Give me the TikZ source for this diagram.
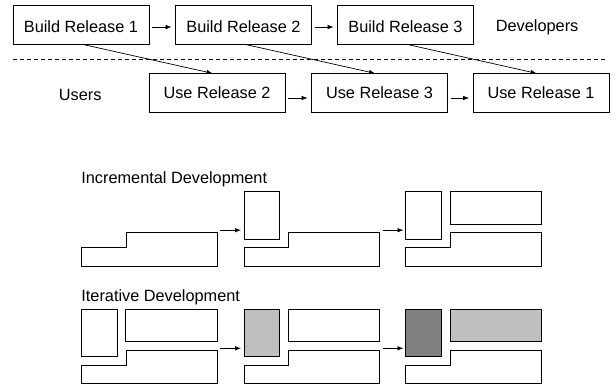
\documentclass[tikz,border=0pt]{standalone}
\usepackage{fontspec}
\setmainfont{Liberation Sans}
\usetikzlibrary{arrows.meta}
\begin{document}
\begin{tikzpicture}[x=1pt,y=-1pt,
  txt/.style={font=\fontsize{16.3}{19}\selectfont},
  box/.style={txt,draw,line width=0.8pt,minimum width=136pt,minimum height=38.5pt,inner sep=0pt},
  topbox/.style={box,text height=16.5pt,text depth=0pt},
  lbl/.style={txt,inner sep=0pt,anchor=base west},
  arr/.style={-{Latex[length=6pt,width=4.5pt]},line width=0.7pt},
  shp/.style={draw,line width=0.8pt},
  lightfill/.style={fill={rgb,255:red,191;green,191;blue,191}},
  darkfill/.style={fill={rgb,255:red,128;green,128;blue,128}},
  sep/.style={line width=0.8pt,dash pattern=on 4pt off 3pt}
]
\useasboundingbox (0,0) rectangle (616,385);

% --- top part: releases ---
\node[topbox] (b1) at (81,24.75) {Build Release 1};
\node[topbox] (b2) at (243.5,24.75) {Build Release 2};
\node[topbox] (b3) at (405.5,24.75) {Build Release 3};
\node[lbl] (dev) at (495.7,31.5) {Developers};

\coordinate (sepL) at (13,59.3);
\coordinate (sepR) at (607,59.3);
\draw[sep] (sepL) -- (sepR);

\node[lbl] (usr) at (58.7,101) {Users};
\node[box] (u2) at (217,93) {Use Release 2};
\node[box] (u3) at (379.5,93) {Use Release 3};
\node[box] (u1) at (541,93) {Use Release 1};

\draw[arr,shorten <=3pt,shorten >=3.5pt] ([yshift=-2.3pt]b1.east) -- ([yshift=-2.3pt]b2.west);
\draw[arr,shorten <=3pt,shorten >=3.5pt] ([yshift=-2.3pt]b2.east) -- ([yshift=-2.3pt]b3.west);
\draw[arr,shorten <=3pt,shorten >=3.5pt] ([yshift=-5pt]u2.east) -- ([yshift=-5pt]u3.west);
\draw[arr,shorten <=3pt,shorten >=3.5pt] ([yshift=-5pt]u3.east) -- ([yshift=-5pt]u1.west);

\draw[arr] ([xshift=70pt]b1.south west) -- ([xshift=64pt]u2.north west);
\draw[arr] ([xshift=70pt]b2.south west) -- ([xshift=64pt]u3.north west);
\draw[arr] ([xshift=70pt]b3.south west) -- ([xshift=64pt]u1.north west);

% --- incremental development ---
\node[lbl] (inc) at (81.2,183) {Incremental Development};
\draw[shp] (81.7,247.3) -- (126,247.3) -- (126,232.7) -- (217.7,232.7) -- (217.7,266) -- (81.7,266) -- cycle;
\draw[shp] (244,247.3) -- (288.3,247.3) -- (288.3,232.7) -- (379.3,232.7) -- (379.3,266) -- (244,266) -- cycle;
\draw[shp] (244,191.7) rectangle (279.3,239);
\draw[shp] (405.7,247.3) -- (450,247.3) -- (450,232.7) -- (541.7,232.7) -- (541.7,266) -- (405.7,266) -- cycle;
\draw[shp] (405.7,191.7) rectangle (441.7,239);
\draw[shp] (450,191.7) rectangle (541.7,224);
\coordinate (ia1s) at (220,230.2);
\coordinate (ia1e) at (241,230.2);
\coordinate (ia2s) at (382.7,230.2);
\coordinate (ia2e) at (403.5,230.2);
\draw[arr] (ia1s) -- (ia1e);
\draw[arr] (ia2s) -- (ia2e);

% --- iterative development ---
\node[lbl] (itr) at (81.2,301) {Iterative Development};
\begin{scope}[shift={(0,117.8)}]
\draw[shp] (81.7,247.3) -- (126,247.3) -- (126,232.7) -- (217.7,232.7) -- (217.7,266) -- (81.7,266) -- cycle;
\draw[shp] (81.7,191.7) rectangle (117.3,239);
\draw[shp] (125.7,191.7) rectangle (217.7,224);
\draw[shp] (244,247.3) -- (288.3,247.3) -- (288.3,232.7) -- (379.3,232.7) -- (379.3,266) -- (244,266) -- cycle;
\draw[shp,lightfill] (244,191.7) rectangle (279.3,239);
\draw[shp] (288.3,191.7) rectangle (379.3,224);
\draw[shp] (405.7,247.3) -- (450,247.3) -- (450,232.7) -- (541.7,232.7) -- (541.7,266) -- (405.7,266) -- cycle;
\draw[shp,darkfill] (405.7,191.7) rectangle (441.7,239);
\draw[shp,lightfill] (450,191.7) rectangle (541.7,224);
\coordinate (ta1s) at (220,230.5);
\coordinate (ta1e) at (241,230.5);
\coordinate (ta2s) at (382.7,230.5);
\coordinate (ta2e) at (403.5,230.5);
\draw[arr] (ta1s) -- (ta1e);
\draw[arr] (ta2s) -- (ta2e);
\end{scope}
\end{tikzpicture}
\end{document}
